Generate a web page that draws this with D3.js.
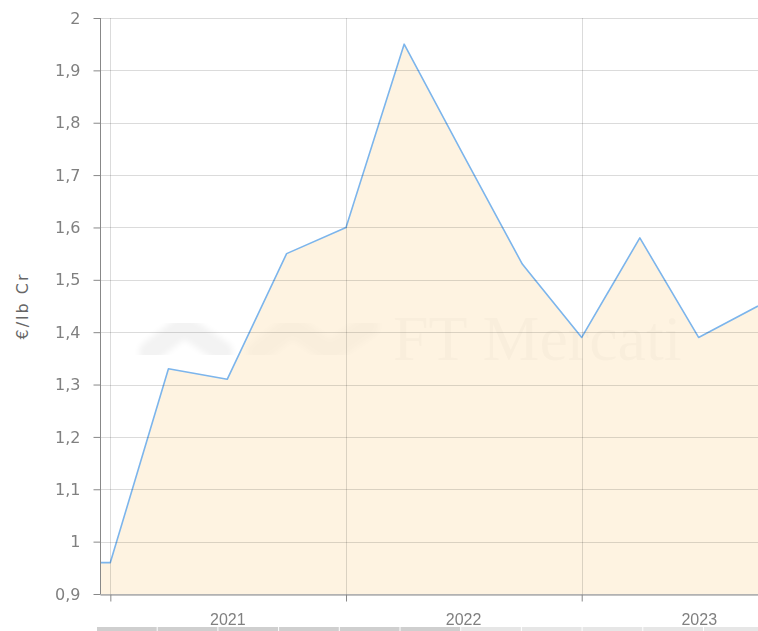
<!DOCTYPE html>
<html>
<head>
<meta charset="utf-8">
<script src="https://cdn.jsdelivr.net/npm/d3@7"></script>
<style>
  body { margin: 0; background: #fff; }
  svg { display: block; font-family: "DejaVu Sans", Verdana, sans-serif; }
</style>
</head>
<body>
<svg id="chart" width="758" height="631"></svg>
<script>
// quarterly prices, €/lb Cr
const dates = ['2020-10-01', '2021-01-01', '2021-04-01', '2021-07-01', '2021-10-01',
               '2022-01-01', '2022-04-01', '2022-07-01', '2022-10-01',
               '2023-01-01', '2023-04-01', '2023-07-01', '2023-10-01'];
const prices = [0.96, 0.96, 1.33, 1.31, 1.55, 1.60, 1.95, 1.74, 1.53, 1.39, 1.58, 1.39, 1.45];
const yTicks = [0.9, 1, 1.1, 1.2, 1.3, 1.4, 1.5, 1.6, 1.7, 1.8, 1.9, 2];
const years = [2021, 2022, 2023];

const margin = {top: 18, bottom: 37, left: 100, right: 0};
const width = 758, height = 631;
const parse = d3.timeParse('%Y-%m-%d');
const data = dates.map((d, i) => ({date: parse(d), value: prices[i]}));

const svg = d3.select('#chart');

const x = d3.scaleTime()
    .domain([parse('2020-12-16'), parse('2023-10-01')])
    .range([margin.left, width - margin.right]);
const y = d3.scaleLinear()
    .domain([0.9, 2])
    .range([height - margin.bottom, margin.top]);

const fmt = v => d3.format('~g')(v).replace('.', ',');

svg.append('defs').append('clipPath').attr('id', 'plot-clip')
    .append('rect')
    .attr('x', margin.left).attr('y', 0)
    .attr('width', width - margin.left - margin.right)
    .attr('height', height - margin.bottom);
svg.select('defs').append('filter').attr('id', 'soft')
    .append('feGaussianBlur').attr('stdDeviation', 3);

// watermark
const wm = svg.append('g').attr('opacity', 0.05);
wm.append('path')
    .attr('d', 'M150,352 L184,326 L222,352 M258,352 L292,326 L330,352 L368,326')
    .attr('fill', 'none').attr('stroke', '#000').attr('stroke-width', 22)
    .attr('stroke-linejoin', 'round').attr('stroke-linecap', 'round')
    .attr('filter', 'url(#soft)');
wm.append('text')
    .attr('x', 393).attr('y', 360)
    .attr('font-family', '"Liberation Serif", serif')
    .attr('font-size', 64)
    .attr('fill', '#000')
    .text('FT Mercati');

// area + line
const plot = svg.append('g').attr('clip-path', 'url(#plot-clip)');
plot.append('path')
    .datum(data)
    .attr('fill', 'rgb(253,235,205)')
    .attr('fill-opacity', 0.6)
    .attr('d', d3.area().x(d => x(d.date)).y0(y(0.9)).y1(d => y(d.value)));

// grid
svg.append('g')
    .selectAll('line')
    .data(yTicks)
    .join('line')
    .attr('x1', margin.left).attr('x2', width)
    .attr('y1', d => Math.round(y(d)) + 0.5).attr('y2', d => Math.round(y(d)) + 0.5)
    .attr('stroke', 'rgba(0,0,0,0.14)');
svg.append('g')
    .selectAll('line')
    .data(years)
    .join('line')
    .attr('x1', d => Math.round(x(new Date(d, 0, 1))) + 0.5)
    .attr('x2', d => Math.round(x(new Date(d, 0, 1))) + 0.5)
    .attr('y1', margin.top).attr('y2', y(0.9))
    .attr('stroke', 'rgba(0,0,0,0.14)');

plot.append('path')
    .datum(data)
    .attr('fill', 'none')
    .attr('stroke', '#7cb5ec')
    .attr('stroke-width', 1.6)
    .attr('stroke-linejoin', 'round')
    .attr('d', d3.line().x(d => x(d.date)).y(d => y(d.value)));

// y axis
const yAxis = d3.axisLeft(y).tickValues(yTicks).tickFormat(fmt).tickSize(7).tickPadding(13);
const gy = svg.append('g')
    .attr('transform', 'translate(' + (margin.left + 0.5) + ',0)')
    .call(yAxis);
gy.select('.domain').attr('stroke', '#888').attr('d', 'M0,' + margin.top + 'V' + y(0.9));
gy.selectAll('.tick line').attr('stroke', '#888');
gy.selectAll('.tick text').attr('fill', '#808080').attr('font-size', 16)
    .attr('font-family', '"DejaVu Sans", sans-serif');

// x axis
const xAxis = d3.axisBottom(x)
    .tickValues(years.map(yr => new Date(yr, 0, 1)))
    .tickFormat('').tickSize(7).tickSizeOuter(0);
const gx = svg.append('g')
    .attr('transform', 'translate(0,' + (Math.round(y(0.9)) + 0.5) + ')')
    .call(xAxis);
gx.select('.domain').attr('stroke', '#888');
gx.selectAll('.tick line').attr('stroke', '#888');
gx.selectAll('.year')
    .data(years)
    .join('text')
    .attr('class', 'year')
    .attr('x', d => x(new Date(d, 6, 2)))
    .attr('y', 30)
    .attr('text-anchor', 'middle')
    .attr('fill', '#808080')
    .attr('font-size', 16)
    .text(d => d);

// y axis title
svg.append('text')
    .attr('transform', 'translate(28,' + (margin.top + (y(0.9) - margin.top) / 2) + ') rotate(-90)')
    .attr('text-anchor', 'middle')
    .attr('fill', '#666')
    .attr('font-size', 16)
    .attr('letter-spacing', 2)
    .text('€/lb Cr');

// navigator strip at the bottom
const strip = svg.append('g');
d3.range(97, width, 60.7).forEach((sx, i) => {
    strip.append('rect')
        .attr('x', sx).attr('y', 627)
        .attr('width', 59.7).attr('height', 4)
        .attr('fill', i < 6 ? '#cfcfcf' : '#e6e6e6');
});
</script>
</body>
</html>
